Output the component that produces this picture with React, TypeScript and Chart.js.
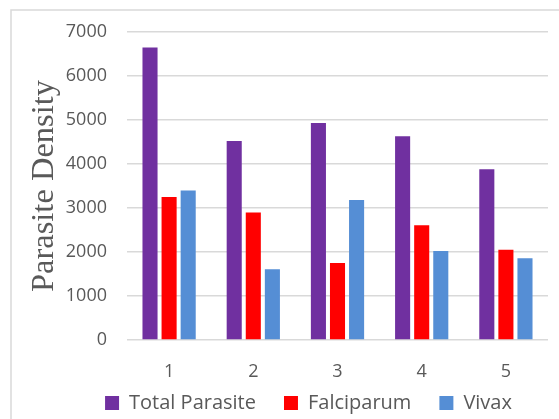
import React, { useEffect, useRef } from "react";
import { Chart, registerables } from "chart.js";

Chart.register(...registerables);

const categories = ["1", "2", "3", "4", "5"];
const totalParasite = [6650, 4520, 4930, 4630, 3880];
const falciparum = [3250, 2900, 1750, 2610, 2050];
const vivax = [3400, 1610, 3180, 2020, 1860];
const yTicks = [0, 1000, 2000, 3000, 4000, 5000, 6000, 7000];

const frame = {
  id: "frame",
  beforeDraw(chart: any) {
    const ctx = chart.ctx;
    ctx.save();
    ctx.fillStyle = "#ffffff";
    ctx.fillRect(0, 0, chart.width, chart.height);
    ctx.strokeStyle = "#d9d9d9";
    ctx.lineWidth = 1.5;
    ctx.beginPath();
    ctx.moveTo(11, chart.height);
    ctx.lineTo(11, 10);
    ctx.lineTo(chart.width, 10);
    ctx.stroke();
    ctx.restore();
  },
  afterLayout(chart: any) {
    const lg = chart.legend;
    if (lg) {
      lg.left += 29;
      lg.right += 29;
      lg.top -= 30.6;
      lg.bottom -= 30.6;
    }
  },
};

export default function App() {
  const ref = useRef<HTMLCanvasElement>(null);
  useEffect(() => {
    document.body.style.margin = "0";
    const chart = new Chart(ref.current!, {
      type: "bar",
      data: {
        labels: categories,
        datasets: [
          { label: "Total Parasite", data: totalParasite, backgroundColor: "#7030A0" },
          { label: "Falciparum", data: falciparum, backgroundColor: "#FF0000" },
          { label: "Vivax", data: vivax, backgroundColor: "#558ED5" },
        ],
      },
      options: {
        animation: false,
        responsive: false,
        categoryPercentage: 0.68,
        barPercentage: 0.79,
        layout: { padding: { left: 11, right: 11, top: 32, bottom: -34.6 } },
        plugins: {
          legend: {
            position: "bottom",
            labels: {
              boxWidth: 14,
              boxHeight: 14,
              padding: 28,
              color: "#595959",
              font: { family: "Open Sans", size: 20 },
            },
          },
          tooltip: { enabled: false },
        },
        scales: {
          x: {
            grid: { display: false },
            border: { display: false },
            ticks: {
              color: "#595959",
              font: { family: "Open Sans", size: 18 },
              padding: 13,
            },
          },
          y: {
            min: 0,
            max: 7000,
            afterBuildTicks(scale: any) {
              scale.ticks = yTicks.map((v) => ({ value: v }));
            },
            afterFit(scale: any) {
              scale.width = 116;
            },
            grid: { color: "#d9d9d9", lineWidth: 1.5, drawTicks: false },
            border: { display: false },
            ticks: {
              color: "#595959",
              font: { family: "Open Sans", size: 18 },
              padding: 20,
              callback: (v: any) => String(v),
            },
            title: {
              display: true,
              text: "Parasite Density",
              color: "#595959",
              font: { family: "Liberation Serif", size: 32.5 },
              padding: { top: 14, bottom: 0 },
            },
          },
        },
      },
      plugins: [frame],
    });
    return () => chart.destroy();
  }, []);
  return (
    <div style={{ position: "absolute", left: 0, top: 0, width: 559, height: 419 }}>
      <canvas ref={ref} width={559} height={419} />
    </div>
  );
}
